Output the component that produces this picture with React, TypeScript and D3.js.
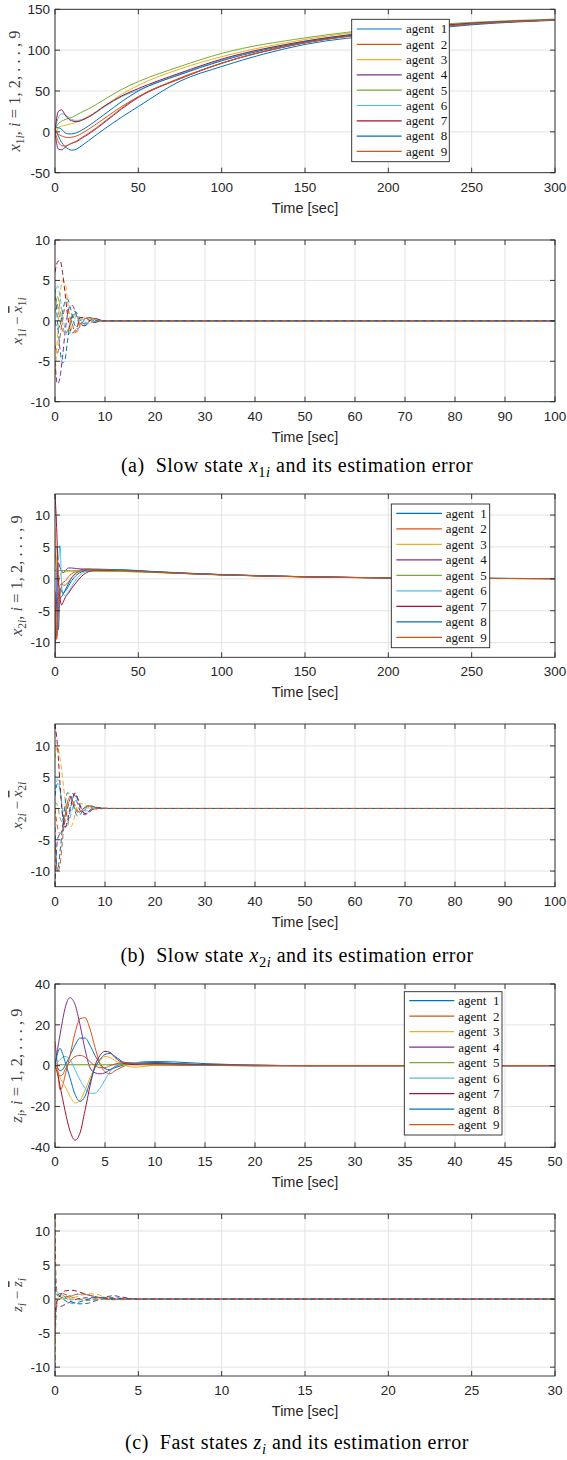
import React from 'react';
import * as d3 from 'd3';

// ---------- shared ----------
const AGENTS = ['agent 1', 'agent 2', 'agent 3', 'agent 4', 'agent 5', 'agent 6', 'agent 7', 'agent 8', 'agent 9'];
const COLORS = ['#0072BD', '#D95319', '#EDB120', '#7E2F8E', '#77AC30', '#4DBEEE', '#A2142F', '#0072BD', '#D95319'];

// ---------- panel 1 : x1i ----------
const T1 = [0, 2, 4, 6, 8, 10, 13, 16, 20, 30, 40, 50, 75, 100, 150, 200, 250, 300];
const X1 = [
  [5, -5, -13, -18, -21, -22.5, -21, -17, -11, 4, 18, 31, 62, 80, 107, 120, 131, 136.5],
  [0, -3, -5, -6.5, -7, -6.5, -5, -2, 3, 17, 31, 43, 66, 84, 109, 123, 132, 137],
  [-5, 5, 7, 8, 9, 10, 12, 15, 19, 32, 46, 57, 77, 92, 113, 126, 133, 137.5],
  [0, -21, -22, -19, -16, -14, -12, -8, -3, 12, 28, 42, 65, 84, 109, 123, 132, 137],
  [3, 10, 13, 15, 16.5, 17.5, 21, 24, 28, 40, 52, 61.5, 80, 96, 115, 127, 134, 138],
  [5, 17, 22, 21, 18, 15, 14, 15, 18, 31, 43, 51, 71, 88, 111, 124, 133, 137],
  [0, 25, 27, 21, 16, 13.5, 12.5, 14, 18, 32, 44, 53, 72, 89, 111, 124, 133, 137],
  [5, 5, 3, -1, -2.5, -2.5, -1, 2, 7, 22, 37, 50, 70, 87, 110, 123, 132, 137],
  [0, -12, -17, -17.5, -16, -14, -11, -7, -2, 13, 29, 43, 65, 84, 109, 122, 132, 137],
];
const YT1 = [-50, 0, 50, 100, 150];
const XT1 = [0, 50, 100, 150, 200, 250, 300];

// ---------- panel 2 : x1i - x1i_bar ----------
const T2 = [0, 0.5, 1, 1.5, 2, 2.5, 3, 3.5, 4, 4.5, 5, 6, 7, 8, 9, 10, 12, 100];
const E1 = [
  [4, 0, -3.5, -5.2, -4.8, -2.5, -0.5, 0.8, 1.2, 0.8, 0.2, -0.4, -0.3, 0.2, 0.1, 0, 0, 0],
  [3, 2, 0, -1.2, -1.5, -1.4, -0.6, 0.2, 0.8, 0.5, -0.3, -0.6, 0.1, 0.3, 0.1, 0, 0, 0],
  [-7, -2, 3, 5, 4.8, 2.5, 0, -1.3, -1.5, -0.8, 0, 0.5, 0.3, -0.1, -0.1, 0, 0, 0],
  [-5, -7.8, -7, -4.5, -1.5, 0.8, 1.8, 1.9, 1.2, 0.3, -0.5, -0.6, 0, 0.3, 0.1, 0, 0, 0],
  [1, 3, 1.5, -0.5, -1.5, -1.2, -0.3, 0.5, 0.9, 0.5, -0.2, -0.3, 0.1, 0.1, 0, 0, 0, 0],
  [3, 4.3, 3, 0.8, -1, -1.8, -1.5, -0.5, 0.4, 0.8, 0.5, -0.2, -0.3, -0.1, 0, 0, 0, 0],
  [6, 7.3, 7.5, 6, 3.5, 0.8, -1, -1.5, -1.2, -0.6, 0.4, 0.4, 0, -0.2, 0, 0, 0, 0],
  [0, -1, -0.5, 1, 2.4, 2.7, 1.8, 0.5, -0.6, -1, -0.7, 0.2, 0.4, 0.1, -0.1, 0, 0, 0],
  [-3, -4, -2, 0.2, 1.5, 1.4, 0.5, -0.5, -1.4, -1.3, -0.5, 0.3, 0.4, 0.2, 0, 0, 0, 0],
];
const YT2 = [-10, -5, 0, 5, 10];
const XT2 = [0, 10, 20, 30, 40, 50, 60, 70, 80, 90, 100];

// ---------- panel 3 : x2i ----------
const T3 = [0, 1, 2, 3, 4, 5, 6, 8, 10, 13, 16, 20, 25, 40, 60, 100, 150, 200, 250, 300];
const X2 = [
  [4.5, 1, -8, -3, -2.8, -2.3, -1.8, -0.8, 0.2, 1.0, 1.4, 1.55, 1.5, 1.35, 1.1, 0.65, 0.33, 0.16, 0.08, 0.04],
  [-2, -9.5, -5, -2.5, -1, -0.5, -0.4, 0.3, 0.8, 1.2, 1.4, 1.45, 1.4, 1.3, 1.05, 0.63, 0.32, 0.15, 0.07, 0.03],
  [8, 2, -1, 0.5, 1.0, 1.0, 1.1, 1.2, 1.2, 1.25, 1.25, 1.25, 1.25, 1.2, 1.0, 0.6, 0.3, 0.14, 0.07, 0.03],
  [-12.3, -3, 2.5, 1.8, 1.2, 1.0, 1.2, 1.7, 1.7, 1.6, 1.55, 1.5, 1.45, 1.3, 1.05, 0.63, 0.32, 0.15, 0.07, 0.03],
  [1.3, 1.3, 1.3, 1.3, 1.3, 1.3, 1.3, 1.3, 1.25, 1.25, 1.2, 1.2, 1.2, 1.15, 1.0, 0.62, 0.3, 0.14, 0.07, 0.03],
  [4, 5, 3, 5.2, -1, -2.5, -2.6, -2, -1.2, 0, 0.8, 1.3, 1.5, 1.45, 1.15, 0.7, 0.35, 0.16, 0.08, 0.04],
  [13.3, 8, 0, -3, -4.1, -3.6, -3, -2.3, -1.5, -0.5, 0.4, 1.1, 1.35, 1.35, 1.1, 0.65, 0.33, 0.15, 0.07, 0.03],
  [-8, -9, -3, -1.5, -2, -2.3, -2, -1.2, -0.3, 0.6, 1.1, 1.4, 1.5, 1.4, 1.1, 0.65, 0.33, 0.16, 0.08, 0.04],
  [-2, -9, -3, -1, -0.8, -1, -1, -0.5, 0.2, 0.9, 1.3, 1.45, 1.45, 1.3, 1.05, 0.63, 0.32, 0.15, 0.07, 0.03],
];
const YT3 = [-10, -5, 0, 5, 10];
const XT3 = [0, 50, 100, 150, 200, 250, 300];

// ---------- panel 4 : x2i - x2i_bar ----------
const T4 = [0, 0.5, 1, 1.5, 2, 2.5, 3, 3.5, 4, 4.5, 5, 6, 7, 8, 10, 12, 14, 100];
const E2 = [
  [2, 4, 3, -1, -3, -2.5, -0.5, 1.5, 2.4, 1.5, 0.2, -0.8, -0.3, 0.1, 0.05, 0, 0, 0],
  [0, -3, -4, -3.3, -1, 1, 2, 1.5, 0.5, -0.3, -0.7, -0.2, 0.4, 0.2, 0, 0, 0, 0],
  [8, 10, 8, 5, 1.5, -1.5, -3, -2.5, -1, 0.5, 0.8, 0.6, 0, -0.2, 0, 0, 0, 0],
  [-12.5, -5, -4, -3.5, -2, 0, 1.5, 2.4, 2, 0.8, -0.3, -1, -0.3, 0.2, 0, 0, 0, 0],
  [1, 0.5, -1.5, -2.2, -1, 0.5, 1.2, 0.8, 0, -0.5, -0.4, 0.1, 0.2, 0, 0, 0, 0, 0],
  [3, 4.7, 3, 0, -2, -2.5, -1.5, 0, 1.2, 1.3, 0.6, -0.4, -0.3, 0, 0, 0, 0, 0],
  [13.5, 10, 4, -1, -3, -2, 0, 1.5, 2.5, 1.8, 0.5, -0.8, -0.5, 0.1, 0, 0, 0, 0],
  [-3, -10, -7, -3, 0.5, 2.5, 2.3, 1, -0.4, -1.2, -1, 0.2, 0.5, 0.2, 0, 0, 0, 0],
  [-5, -10, -9, -5, -1.5, 1, 1.8, 1.2, 0.2, -0.6, -0.5, 0.2, 0.4, 0.1, 0, 0, 0, 0],
];
const YT4 = [-10, -5, 0, 5, 10];
const XT4 = [0, 10, 20, 30, 40, 50, 60, 70, 80, 90, 100];

// ---------- panel 5 : zi ----------
const T5 = [0, 0.25, 0.5, 0.75, 1, 1.5, 2, 2.5, 3, 3.5, 4, 4.5, 5, 5.5, 6, 7, 8, 10, 12, 15, 20, 25, 50];
const Z = [
  [0, -1, -2.5, -2, 0, 5, 10, 13.5, 13.5, 10, 5, 1, -1.5, -2, -1, 0.5, 1.5, 2, 1.8, 1, 0.3, 0, 0],
  [12, 0, -11.8, -10, -5, 5, 16, 23, 23.5, 18, 9, 1, -3, -4, -2.5, 0, 1.5, 1.5, 1, 0.5, 0.2, 0, 0],
  [0, -3, -6, -8, -10, -15, -18.3, -17, -12, -6, -1, 2.5, 4.5, 4, 2.5, 0, -0.7, 0.2, 0.5, 0.3, 0, 0, 0],
  [0, 8, 15, 22, 28, 33.3, 30, 20, 8, -1, -3.5, -4, -3.5, -2, -0.5, 1.2, 1.5, 1, 0.5, 0.2, 0, 0, 0],
  [0, 0.3, 0.5, 0.5, 0.5, 0.5, 0.5, 0.5, 0.5, 0.5, 0.5, 0.5, 0.5, 0.5, 0.5, 0.5, 0.5, 0.3, 0.2, 0.1, 0, 0, 0],
  [0, 1.5, 3, 4, 4.5, 3, -2, -7, -11, -13.5, -13.5, -11, -7, -3, -0.5, 1.5, 1.5, 1, 0.5, 0.2, 0, 0, 0],
  [0, -4, -10, -16, -22, -32, -36.5, -33, -22, -10, 0, 5, 7, 6.5, 4, 1, 0.5, 1, 0.8, 0.4, 0, 0, 0],
  [0, 6, 8.5, 6, 2, -6, -14, -17.5, -15, -8, -1, 3, 5.5, 6, 4.5, 1.5, 1, 1.5, 1, 0.5, 0.2, 0, 0],
  [0, -3, -5, -4.5, -2, 2, 4.5, 5, 4.2, 2, 0, -1, -1, 0, 0.8, 1.5, 1, 0.5, 0.3, 0.1, 0, 0, 0],
];
const YT5 = [-40, -20, 0, 20, 40];
const XT5 = [0, 5, 10, 15, 20, 25, 30, 35, 40, 45, 50];

// ---------- panel 6 : zi - zi_bar ----------
const T6 = [0, 0.05, 0.15, 0.3, 0.6, 1, 1.5, 2, 2.5, 3, 3.5, 4, 5, 6, 30];
const E3 = [
  [-11.3, -3, 0.5, 0.8, 0.3, -0.4, -0.7, -0.6, -0.2, 0.1, 0.2, 0.1, 0, 0, 0],
  [12.5, 4, 0.5, 0.9, 0.7, 0.3, 0, -0.2, -0.1, 0.1, 0.1, 0, 0, 0, 0],
  [-9, -2, 0.2, 0.5, 0.2, 0.2, 0.5, 0.8, 0.7, 0.3, 0, -0.1, 0, 0, 0],
  [-4, -1.5, -1, -1.1, -0.8, -0.3, 0.1, 0.2, 0.2, 0.3, 0.5, 0.3, 0, 0, 0],
  [1, 0.8, 0.5, 0.3, 0.1, 0, -0.1, -0.1, 0, 0, 0, 0, 0, 0, 0],
  [5, 1.5, 1, 0.8, 0.4, 0.5, 0.7, 0.6, 0.3, 0, -0.1, 0, 0, 0, 0],
  [-2, -1, -0.2, 0.5, 1.2, 1.3, 1, 0.6, 0.3, 0.1, 0, 0.1, 0, 0, 0],
  [3, 1, 0.8, 0.4, -0.2, -0.6, -0.4, 0, 0.2, 0.2, 0.1, 0, 0, 0, 0],
  [-6, -1.5, -0.5, 0, 0.3, 0.5, 0.8, 0.6, 0.3, 0, -0.1, 0, 0, 0, 0],
];
const YT6 = [-10, -5, 0, 5, 10];
const XT6 = [0, 5, 10, 15, 20, 25, 30];

// ---------- layout ----------
const L = 55;
const R = 555;
const AX = '#262626';
const GRID = '#e3e3e3';
const SANS = '"Liberation Sans", Arial, Helvetica, sans-serif';
const SERIF = '"Liberation Serif", "Times New Roman", serif';

type Legend = { x0: number; x1: number; y0: number; y1: number; first: number; step: number; l0: number; l1: number; tx: number };
type Cfg = {
  id: string; t: number[]; series: number[][]; xDomain: [number, number]; yDomain: [number, number];
  xTicks: number[]; yTicks: number[]; top: number; bottom: number; dashed: boolean;
  legend?: Legend; ylabel: React.ReactNode; ylx: number; ylSize: number;
};

const sub = (txt: string, italic: string) => (
  <tspan dy="3.5" fontSize="11.5">
    {txt}
    <tspan fontStyle="italic">{italic}</tspan>
  </tspan>
);
const bar = (v: string) => (
  <tspan fontStyle="italic" style={{ textDecoration: 'overline' }}>
    {v}
  </tspan>
);

const panels: Cfg[] = [
  { id: 'p1', t: T1, series: X1, xDomain: [0, 300], yDomain: [-50, 150], xTicks: XT1, yTicks: YT1, top: 9.3, bottom: 172.7, dashed: false,
    legend: { x0: 351.7, x1: 449.3, y0: 19.3, y1: 161.7, first: 29, step: 15.3, l0: 356.7, l1: 401.7, tx: 406 },
    ylabel: (<><tspan fontStyle="italic">x</tspan>{sub('1', 'i')}<tspan dy="-3.5">, </tspan><tspan fontStyle="italic">i</tspan><tspan> = 1, 2, . . . , 9</tspan></>), ylx: 20, ylSize: 16.5 },
  { id: 'p2', t: T2, series: E1, xDomain: [0, 100], yDomain: [-10, 10], xTicks: XT2, yTicks: YT2, top: 240, bottom: 401.7, dashed: true,
    ylabel: (<><tspan fontStyle="italic">x</tspan>{sub('1', 'i')}<tspan dy="-3.5"> − </tspan>{bar('x')}{sub('1', 'i')}</>), ylx: 22, ylSize: 15 },
  { id: 'p3', t: T3, series: X2, xDomain: [0, 300], yDomain: [-12.3, 13.3], xTicks: XT3, yTicks: YT3, top: 494, bottom: 657.3, dashed: false,
    legend: { x0: 391.3, x1: 489.7, y0: 504, y1: 647.7, first: 513.3, step: 15.5, l0: 396.3, l1: 442, tx: 445.7 },
    ylabel: (<><tspan fontStyle="italic">x</tspan>{sub('2', 'i')}<tspan dy="-3.5">, </tspan><tspan fontStyle="italic">i</tspan><tspan> = 1, 2, . . . , 9</tspan></>), ylx: 22, ylSize: 16.5 },
  { id: 'p4', t: T4, series: E2, xDomain: [0, 100], yDomain: [-12.5, 13.5], xTicks: XT4, yTicks: YT4, top: 724, bottom: 886.7, dashed: true,
    ylabel: (<><tspan fontStyle="italic">x</tspan>{sub('2', 'i')}<tspan dy="-3.5"> − </tspan>{bar('x')}{sub('2', 'i')}</>), ylx: 22, ylSize: 15 },
  { id: 'p5', t: T5, series: Z, xDomain: [0, 50], yDomain: [-40, 40], xTicks: XT5, yTicks: YT5, top: 984, bottom: 1147.3, dashed: false,
    legend: { x0: 404.3, x1: 502, y0: 991.7, y1: 1135, first: 1000.7, step: 15.5, l0: 409.3, l1: 454.3, tx: 458.3 },
    ylabel: (<><tspan fontStyle="italic">z</tspan>{sub('', 'i')}<tspan dy="-3.5">, </tspan><tspan fontStyle="italic">i</tspan><tspan> = 1, 2, . . . , 9</tspan></>), ylx: 22, ylSize: 16.5 },
  { id: 'p6', t: T6, series: E3, xDomain: [0, 30], yDomain: [-11.3, 12.5], xTicks: XT6, yTicks: YT6, top: 1214, bottom: 1376, dashed: true,
    ylabel: (<><tspan fontStyle="italic">z</tspan>{sub('', 'i')}<tspan dy="-3.5"> − </tspan>{bar('z')}{sub('', 'i')}</>), ylx: 22, ylSize: 15 },
];

const captions: { y: number; lead: string; v: string; sub: string; tail: string }[] = [
  { y: 472, lead: '(a)  Slow state ', v: 'x', sub: '1', tail: ' and its estimation error' },
  { y: 962, lead: '(b)  Slow state ', v: 'x', sub: '2', tail: ' and its estimation error' },
  { y: 1449, lead: '(c)  Fast states ', v: 'z', sub: '', tail: ' and its estimation error' },
];

function Panel({ cfg }: { cfg: Cfg }) {
  const x = d3.scaleLinear().domain(cfg.xDomain).range([L, R]);
  const y = d3.scaleLinear().domain(cfg.yDomain).range([cfg.bottom, cfg.top]);
  const line = d3
    .line<number>()
    .x((_, i) => x(cfg.t[i]))
    .y((d) => y(d))
    .curve(d3.curveMonotoneX);
  const tk = 5;
  const midY = (cfg.top + cfg.bottom) / 2;
  return (
    <g>
      <defs>
        <clipPath id={`clip-${cfg.id}`}>
          <rect x={L} y={cfg.top} width={R - L} height={cfg.bottom - cfg.top} />
        </clipPath>
      </defs>
      <rect x={L} y={cfg.top} width={R - L} height={cfg.bottom - cfg.top} fill="#fff" />
      {cfg.xTicks.map((v) => (
        <line key={`gx${v}`} x1={x(v)} x2={x(v)} y1={cfg.top} y2={cfg.bottom} stroke={GRID} strokeWidth={1} />
      ))}
      {cfg.yTicks.map((v) => (
        <line key={`gy${v}`} x1={L} x2={R} y1={y(v)} y2={y(v)} stroke={GRID} strokeWidth={1} />
      ))}
      <g clipPath={`url(#clip-${cfg.id})`}>
        {cfg.series.map((s, i) => (
          <path
            key={i}
            d={line(s) || ''}
            fill="none"
            stroke={COLORS[i]}
            strokeWidth={1}
            strokeDasharray={cfg.dashed ? '5 3' : undefined}
          />
        ))}
      </g>
      <rect x={L} y={cfg.top} width={R - L} height={cfg.bottom - cfg.top} fill="none" stroke={AX} strokeWidth={0.9} />
      {cfg.xTicks.map((v) => (
        <g key={`tx${v}`}>
          <line x1={x(v)} x2={x(v)} y1={cfg.bottom} y2={cfg.bottom - tk} stroke={AX} strokeWidth={0.9} />
          <line x1={x(v)} x2={x(v)} y1={cfg.top} y2={cfg.top + tk} stroke={AX} strokeWidth={0.9} />
          <text x={x(v)} y={cfg.bottom + 19} textAnchor="middle" fontFamily={SANS} fontSize={13.5} fill={AX}>
            {v}
          </text>
        </g>
      ))}
      {cfg.yTicks.map((v) => (
        <g key={`ty${v}`}>
          <line x1={L} x2={L + tk} y1={y(v)} y2={y(v)} stroke={AX} strokeWidth={0.9} />
          <line x1={R} x2={R - tk} y1={y(v)} y2={y(v)} stroke={AX} strokeWidth={0.9} />
          <text x={L - 5} y={y(v) + 4.8} textAnchor="end" fontFamily={SANS} fontSize={13.5} fill={AX}>
            {v}
          </text>
        </g>
      ))}
      <text x={(L + R) / 2} y={cfg.bottom + 40} textAnchor="middle" fontFamily={SANS} fontSize={14.5} fill={AX}>
        Time [sec]
      </text>
      <text
        transform={`translate(${cfg.ylx},${midY}) rotate(-90)`}
        textAnchor="middle"
        fontFamily={SERIF}
        fontSize={cfg.ylSize}
        fill="#444"
        style={{ whiteSpace: 'pre' }}
      >
        {cfg.ylabel}
      </text>
      {cfg.legend && (
        <g>
          <rect
            x={cfg.legend.x0}
            y={cfg.legend.y0}
            width={cfg.legend.x1 - cfg.legend.x0}
            height={cfg.legend.y1 - cfg.legend.y0}
            fill="#fff"
            stroke={AX}
            strokeWidth={0.9}
          />
          {AGENTS.map((a, i) => {
            const lg = cfg.legend as Legend;
            const yy = lg.first + i * lg.step;
            return (
              <g key={a}>
                <line x1={lg.l0} x2={lg.l1} y1={yy} y2={yy} stroke={COLORS[i]} strokeWidth={1.2} />
                <text x={lg.tx} y={yy + 4.3} fontFamily={SERIF} fontSize={13} fill="#111" style={{ whiteSpace: 'pre' }}>
                  {a.replace(' ', '  ')}
                </text>
              </g>
            );
          })}
        </g>
      )}
    </g>
  );
}

export default function App() {
  return (
    <svg
      width={567}
      height={1460}
      viewBox="0 0 567 1460"
      style={{ position: 'absolute', left: 0, top: 0, background: '#fff' }}
    >
      <rect x={0} y={0} width={567} height={1460} fill="#fff" />
      {panels.map((p) => (
        <Panel key={p.id} cfg={p} />
      ))}
      {captions.map((c) => (
        <text
          key={c.y}
          x={297}
          y={c.y}
          textAnchor="middle"
          fontFamily={SERIF}
          fontSize={20}
          letterSpacing={0.5}
          fill="#000"
          style={{ whiteSpace: 'pre' }}
        >
          <tspan>{c.lead}</tspan>
          <tspan fontStyle="italic">{c.v}</tspan>
          <tspan dy="4.5" fontSize="14.5">
            {c.sub}
            <tspan fontStyle="italic">i</tspan>
          </tspan>
          <tspan dy="-4.5">{c.tail}</tspan>
        </text>
      ))}
    </svg>
  );
}
